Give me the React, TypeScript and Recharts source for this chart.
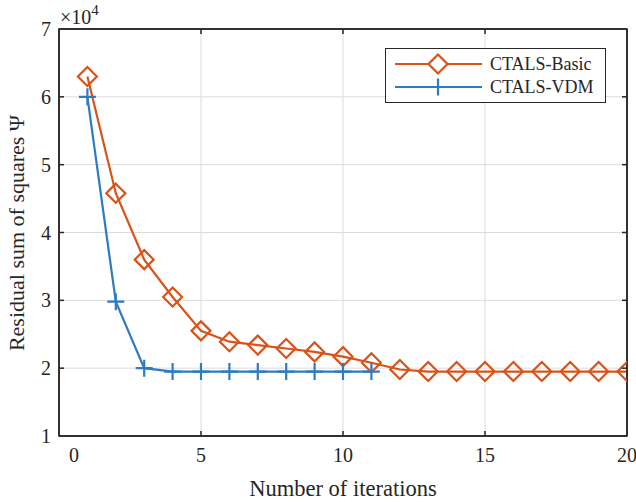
import React from 'react';
import { LineChart, Line, XAxis, YAxis, CartesianGrid, ReferenceArea } from 'recharts';

const basicIterations = [1, 2, 3, 4, 5, 6, 7, 8, 9, 10, 11, 12, 13, 14, 15, 16, 17, 18, 19, 20];
const basicValues = [63000, 45800, 36000, 30500, 25500, 23900, 23400, 22900, 22400, 21700, 20800, 19800, 19500, 19500, 19500, 19500, 19500, 19500, 19500, 19500];
const vdmIterations = [1, 2, 3, 4, 5, 6, 7, 8, 9, 10, 11];
const vdmValues = [60000, 29800, 20000, 19500, 19500, 19500, 19500, 19500, 19500, 19500, 19500];
const xTicks = [0, 5, 10, 15, 20];
const yTicks = [10000, 20000, 30000, 40000, 50000, 60000, 70000];
const seriesNames = ['CTALS-Basic', 'CTALS-VDM'];
const xTitle = 'Number of iterations';
const yTitle = 'Residual sum of squares Ψ';

const basicData = basicIterations.map((x, i) => ({ x, y: basicValues[i] }));
const vdmData = vdmIterations.map((x, i) => ({ x, y: vdmValues[i] }));

const ORANGE = '#D95319';
const BLUE = '#2F7BBF';
const AXIS = '#262626';
const FONT = '"Liberation Serif", "Times New Roman", serif';

const Diamond = (props: any) => {
  const { cx, cy, index } = props;
  if (cx == null || cy == null) return <g key={index} />;
  const r = 9.5;
  return (
    <path
      key={index}
      d={`M${cx},${cy - r}L${cx + r},${cy}L${cx},${cy + r}L${cx - r},${cy}Z`}
      fill="none"
      stroke={ORANGE}
      strokeWidth={2.2}
    />
  );
};

const Plus = (props: any) => {
  const { cx, cy, index } = props;
  if (cx == null || cy == null) return <g key={index} />;
  const r = 8.5;
  return (
    <path
      key={index}
      d={`M${cx - r},${cy}L${cx + r},${cy}M${cx},${cy - r}L${cx},${cy + r}`}
      fill="none"
      stroke={BLUE}
      strokeWidth={2.2}
    />
  );
};

const BottomTick = (props: any) => {
  const { x, y, payload } = props;
  const v = payload.value;
  const dx = v === 0 ? 15 : 0;
  return (
    <g>
      {v !== 0 && v !== 20 && <line x1={x} y1={y} x2={x} y2={y - 5} stroke={AXIS} strokeWidth={1.5} />}
      <text x={x + dx} y={y + 26} textAnchor="middle" fontSize={20} fontFamily={FONT} fill={AXIS}>
        {v}
      </text>
    </g>
  );
};

const TopTick = (props: any) => {
  const { x, y, payload } = props;
  const v = payload.value;
  if (v === 0 || v === 20) return <g />;
  return <line x1={x} y1={y} x2={x} y2={y + 5} stroke={AXIS} strokeWidth={1.5} />;
};

const LeftTick = (props: any) => {
  const { x, y, payload } = props;
  const v = payload.value;
  return (
    <g>
      {v !== 10000 && v !== 70000 && <line x1={x} y1={y} x2={x + 5} y2={y} stroke={AXIS} strokeWidth={1.5} />}
      <text x={x - 8} y={y} dy="0.35em" textAnchor="end" fontSize={20} fontFamily={FONT} fill={AXIS}>
        {v / 10000}
      </text>
    </g>
  );
};

const RightTick = (props: any) => {
  const { x, y, payload } = props;
  const v = payload.value;
  if (v === 10000 || v === 70000) return <g />;
  return <line x1={x} y1={y} x2={x - 5} y2={y} stroke={AXIS} strokeWidth={1.5} />;
};

export default function App() {
  return (
    <div style={{ position: 'absolute', left: 0, top: 0, width: 636, height: 502, background: '#fff' }}>
      <LineChart width={636} height={502} margin={{ top: 28, right: 8, left: 0, bottom: 0 }}>
        <CartesianGrid stroke="#dcdcdc" strokeWidth={1} />
        <ReferenceArea
          x1={0}
          x2={20}
          y1={10000}
          y2={70000}
          fill="none"
          stroke={AXIS}
          strokeWidth={1.5}
          ifOverflow="visible"
        />
        <XAxis
          xAxisId={0}
          dataKey="x"
          type="number"
          domain={[0, 20]}
          ticks={xTicks}
          height={66}
          tickSize={0}
          tickMargin={0}
          tickLine={false}
          tick={<BottomTick />}
          axisLine={{ stroke: AXIS, strokeWidth: 1.5 }}
          interval={0}
          allowDataOverflow
        />
        <XAxis
          xAxisId="top"
          orientation="top"
          dataKey="x"
          type="number"
          domain={[0, 20]}
          ticks={xTicks}
          height={1}
          tickSize={0}
          tickMargin={0}
          tickLine={false}
          tick={<TopTick />}
          axisLine={{ stroke: AXIS, strokeWidth: 1.5 }}
          interval={0}
          allowDataOverflow
        />
        <YAxis
          yAxisId={0}
          type="number"
          domain={[10000, 70000]}
          ticks={yTicks}
          width={59}
          tickSize={0}
          tickMargin={0}
          tickLine={false}
          tick={<LeftTick />}
          axisLine={{ stroke: AXIS, strokeWidth: 1.5 }}
          interval={0}
          allowDataOverflow
        />
        <YAxis
          yAxisId="right"
          orientation="right"
          type="number"
          domain={[10000, 70000]}
          ticks={yTicks}
          width={1}
          tickSize={0}
          tickMargin={0}
          tickLine={false}
          tick={<RightTick />}
          axisLine={{ stroke: AXIS, strokeWidth: 1.5 }}
          interval={0}
          allowDataOverflow
        />
        <Line
          xAxisId={0}
          yAxisId={0}
          data={basicData}
          dataKey="y"
          name={seriesNames[0]}
          stroke={ORANGE}
          strokeWidth={2.2}
          dot={(p: any) => <Diamond {...p} key={p.index} />}
          isAnimationActive={false}
        />
        <Line
          xAxisId={0}
          yAxisId={0}
          data={vdmData}
          dataKey="y"
          name={seriesNames[1]}
          stroke={BLUE}
          strokeWidth={2.2}
          dot={(p: any) => <Plus {...p} key={p.index} />}
          isAnimationActive={false}
        />
        <Line
          xAxisId="top"
          yAxisId="right"
          data={vdmData}
          dataKey="y"
          stroke="none"
          dot={false}
          activeDot={false}
          legendType="none"
          isAnimationActive={false}
        />
      </LineChart>
      <svg
        width={636}
        height={502}
        style={{ position: 'absolute', left: 0, top: 0, pointerEvents: 'none' }}
        fontFamily={FONT}
      >
        <text x={60} y={24} fontSize={20} fill={AXIS}>
          ×10<tspan dy={-9} fontSize={15}>4</tspan>
        </text>
        <text x={343} y={496} textAnchor="middle" fontSize={22.5} fill={AXIS}>
          {xTitle}
        </text>
        <text
          x={0}
          y={0}
          transform="translate(24,233) rotate(-90)"
          textAnchor="middle"
          fontSize={22}
          fill={AXIS}
        >
          {yTitle}
        </text>
        <g>
          <rect x={385.5} y={48.5} width={220} height={54} fill="#fff" stroke={AXIS} strokeWidth={1} />
          <line x1={395} y1={64} x2={482} y2={64} stroke={ORANGE} strokeWidth={2.2} />
          <path d="M438,54.5L447.5,64L438,73.5L428.5,64Z" fill="#fff" stroke={ORANGE} strokeWidth={2.2} />
          <text x={490} y={64} dy="0.35em" fontSize={18} fill={AXIS}>
            {seriesNames[0]}
          </text>
          <line x1={395} y1={87} x2={482} y2={87} stroke={BLUE} strokeWidth={2.2} />
          <path d="M429.5,87L446.5,87M438,78.5L438,95.5" stroke={BLUE} strokeWidth={2.2} />
          <text x={490} y={87} dy="0.35em" fontSize={18} fill={AXIS}>
            {seriesNames[1]}
          </text>
        </g>
      </svg>
    </div>
  );
}
